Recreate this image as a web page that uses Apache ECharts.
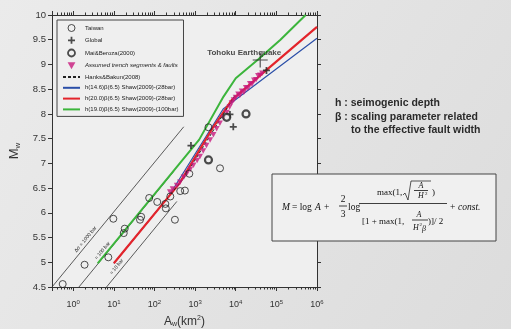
<!DOCTYPE html>
<html>
<head>
<meta charset="utf-8">
<title>Mw vs rupture area</title>
<script src="https://cdn.jsdelivr.net/npm/echarts@6/dist/echarts.min.js"></script>
<style>
  html, body { margin: 0; padding: 0; }
  #chart { width: 511px; height: 329px; }
</style>
</head>
<body>
<div id="chart"></div>
<script>
// Taiwan events (open circles)
var taiwanArea = [0.55, 1.9, 7.3, 9.7, 17.5, 18.5, 44, 47, 74, 117, 185, 190, 245, 318, 430, 560, 720, 2130, 4100];
var taiwanMw   = [4.56, 4.95, 5.10, 5.88, 5.59, 5.68, 5.86, 5.92, 6.30, 6.22, 6.18, 6.09, 6.33, 5.86, 6.44, 6.45, 6.79, 7.73, 6.90];
// Global events, last one is Tohoku
var globalArea = [790, 7200, 8700, 57000, 40000];
var globalMw   = [7.36, 7.99, 7.74, 8.88, 9.09];
// Mai & Beroza (2000)
var maiArea = [2130, 6000, 17900];
var maiMw   = [7.07, 7.93, 8.00];
// assumed trench segments & faults
var trenchArea = [240, 280, 355, 425, 525, 630, 760, 910, 1120, 1320, 1580, 1900, 2340, 2820, 3390,
                  4070, 5010, 6030, 7080, 7940, 8910, 10000, 11500, 12600, 14100, 15800, 17800, 20000,
                  22400, 25100, 28200, 31600, 35500, 39800, 44700];
var trenchMw   = [6.42, 6.48, 6.55, 6.62, 6.72, 6.80, 6.88, 6.96, 7.06, 7.14, 7.25, 7.36, 7.47, 7.58, 7.70,
                  7.81, 7.92, 8.03, 8.14, 8.22, 8.28, 8.33, 8.40, 8.37, 8.46, 8.44, 8.53, 8.52,
                  8.61, 8.60, 8.68, 8.69, 8.77, 8.78, 8.82];
// Hanks & Bakun
var hanksArea = [250, 537, 10000];
var hanksMw   = [6.38, 6.71, 8.40];
// Shaw (2009) curves
var blueArea  = [10, 214, 4900, 1000000];
var blueMw    = [4.98, 6.31, 8.10, 9.53];
var redArea   = [10, 400, 2820, 7940, 57500, 1000000];
var redMw     = [4.98, 6.58, 7.74, 8.28, 8.89, 9.76];
var greenArea = [4, 1260, 5000, 10000, 35500, 126000, 525000];
var greenMw   = [4.98, 7.48, 8.35, 8.72, 9.10, 9.50, 10.0];
// constant stress drop lines
var bar1000Area = [0.3, 525],  bar1000Mw = [4.5, 7.74];
var bar100Area  = [1.38, 300], bar100Mw  = [4.5, 6.84];
var bar10Area   = [6.6, 355],  bar10Mw   = [4.5, 6.23];

var legendNames = ['Taiwan', 'Global', 'Mai&Beroza(2000)', 'Assumed trench segments & faults',
  'Hanks&Bakun(2008)', 'h(14.6)β(6.5) Shaw(2009)-(28bar)', 'h(20.0)β(6.5) Shaw(2009)-(28bar)',
  'h(19.0)β(6.5) Shaw(2009)-(100bar)'];

function pairs(xs, ys) {
  return xs.map(function (x, i) { return [x, ys[i]]; });
}

var ink = '#222';
var plusBold = 'path://M3,0H5V3H8V5H5V8H3V5H0V3H3Z';
var plusThin = 'path://M7.4,0H8.6V7.4H16V8.6H8.6V16H7.4V8.6H0V7.4H7.4Z';
var triDown = 'path://M0,0L10,0L5,9Z';

var globalData = pairs(globalArea, globalMw);
globalData[4] = {
  value: globalData[4], symbol: plusThin, symbolSize: 15,
  label: { show: true, formatter: 'Tohoku Earthquake', position: 'top', distance: 0, offset: [-16, 4],
           fontSize: 8, fontWeight: 'bold', color: ink, fontFamily: 'Liberation Sans' }
};

function refLine(xs, ys) {
  return { type: 'line', data: pairs(xs, ys), symbol: 'none', silent: true,
           lineStyle: { color: '#333', width: 0.8 }, z: 1 };
}

var chart = echarts.init(document.getElementById('chart'), null, { renderer: 'canvas' });

var logLabel = function (v) {
  var e = Math.round(Math.log10(v));
  if (Math.abs(v - Math.pow(10, e)) > 1e-6 * v) return '';
  return '10{s|' + e + '}';
};

var legendData = legendNames.map(function (n, i) {
  if (i === 0) return { name: n, itemStyle: { borderWidth: 1 } };
  if (i === 2) return { name: n, itemStyle: { borderWidth: 1.8 } };
  if (i === 3) return { name: n, icon: triDown, textStyle: { fontStyle: 'italic' } };
  if (i >= 4) return { name: n, itemStyle: { opacity: 0 } };
  return { name: n };
});

chart.setOption({
  backgroundColor: {
    type: 'linear', x: 0, y: 0, x2: 1, y2: 1,
    colorStops: [{ offset: 0, color: '#ebebeb' }, { offset: 1, color: '#dcdcdc' }]
  },
  animation: false,
  textStyle: { fontFamily: 'Liberation Sans' },
  grid: { left: 52, right: 194, top: 15, bottom: 42, outerBoundsMode: 'none', containLabel: false,
          show: true, backgroundColor: '#efefef', borderWidth: 0 },
  legend: {
    orient: 'vertical', left: 57, top: 20, padding: [4, 5, 4, 5],
    itemWidth: 17, itemHeight: 7, itemGap: 4.8,
    borderColor: '#444', borderWidth: 1, backgroundColor: '#efefef',
    textStyle: { fontSize: 6, color: ink },
    data: legendData
  },
  xAxis: [{
    type: 'log', min: 0.3, max: 1000000, splitNumber: 7,
    axisLine: { lineStyle: { color: '#333' } },
    axisTick: { length: 4, lineStyle: { color: '#333' } },
    minorTick: { show: true, splitNumber: 9, length: 2.5, lineStyle: { color: '#333' } },
    splitLine: { show: false },
    axisLabel: {
      margin: 12, color: '#333', fontSize: 9, formatter: logLabel,
      rich: { s: { fontSize: 6, verticalAlign: 'top', padding: [0, 0, 5, 0] } }
    },
    name: 'A{w|w}(km{s|2})', nameLocation: 'middle', nameGap: 28,
    nameTextStyle: { fontSize: 12, color: '#333',
      rich: { w: { fontSize: 7, padding: [6, 0, 0, 0] }, s: { fontSize: 7, padding: [0, 0, 6, 0] } } }
  }, {
    type: 'log', min: 0.3, max: 1000000, splitNumber: 7, position: 'top',
    axisLine: { lineStyle: { color: '#333' } },
    axisTick: { length: 4, lineStyle: { color: '#333' } },
    minorTick: { show: true, splitNumber: 9, length: 2.5, lineStyle: { color: '#333' } },
    splitLine: { show: false }, axisLabel: { show: false }
  }],
  yAxis: [{
    type: 'value', min: 4.5, max: 10, interval: 0.5,
    axisLine: { show: true, lineStyle: { color: '#333' } },
    axisTick: { show: true, length: 4, lineStyle: { color: '#333' } },
    splitLine: { show: false },
    axisLabel: { color: '#333', fontSize: 9.5, margin: 6 },
    name: 'M{w|w}', nameLocation: 'middle', nameGap: 20, nameRotate: 90,
    nameTextStyle: { fontSize: 13, color: '#333',
      rich: { w: { fontSize: 8, padding: [7, 0, 0, 0] } } }
  }, {
    type: 'value', min: 4.5, max: 10, interval: 0.5, position: 'right',
    axisLine: { show: true, lineStyle: { color: '#333' } },
    axisTick: { show: true, length: 4, lineStyle: { color: '#333' } },
    splitLine: { show: false }, axisLabel: { show: false }
  }],
  series: [
    refLine(bar1000Area, bar1000Mw),
    refLine(bar100Area, bar100Mw),
    refLine(bar10Area, bar10Mw),
    { name: legendNames[5], type: 'line', data: pairs(blueArea, blueMw), symbol: 'none',
      lineStyle: { color: '#2b4fa8', width: 1.2 }, itemStyle: { color: '#2b4fa8' }, z: 2 },
    { name: legendNames[6], type: 'line', data: pairs(redArea, redMw), symbol: 'none',
      lineStyle: { color: '#e3242b', width: 2.2 }, itemStyle: { color: '#e3242b' }, z: 3 },
    { name: legendNames[7], type: 'line', data: pairs(greenArea, greenMw), symbol: 'none',
      lineStyle: { color: '#3cb53c', width: 2 }, itemStyle: { color: '#3cb53c' }, z: 3 },
    { name: legendNames[4], type: 'line', data: pairs(hanksArea, hanksMw), symbol: 'none',
      lineStyle: { color: ink, width: 1, type: [3, 2] }, itemStyle: { color: ink }, z: 4 },
    { name: legendNames[3], type: 'scatter', data: pairs(trenchArea, trenchMw),
      symbol: triDown, symbolSize: [6, 5.5],
      itemStyle: { color: '#c8197d' }, z: 5 },
    { name: legendNames[0], type: 'scatter', data: pairs(taiwanArea, taiwanMw),
      symbol: 'circle', symbolSize: 7,
      itemStyle: { color: 'rgba(0,0,0,0)', borderColor: ink, borderWidth: 1 }, z: 6 },
    { name: legendNames[1], type: 'scatter', data: globalData,
      symbol: plusBold, symbolSize: 7, itemStyle: { color: ink }, z: 6 },
    { name: legendNames[2], type: 'scatter', data: pairs(maiArea, maiMw),
      symbol: 'circle', symbolSize: 7,
      itemStyle: { color: '#efefef', borderColor: ink, borderWidth: 2.2 }, z: 6 }
  ]
});

// annotations: stress drop labels along the reference lines, the notes and the formula
var px = function (a, m) { return chart.convertToPixel({ xAxisIndex: 0, yAxisIndex: 0 }, [a, m]); };
var p0 = px(1, 5), p1 = px(10, 6);
var ang = Math.atan2(p0[1] - p1[1], p1[0] - p0[0]);
var nx = -Math.sin(ang) * 5, ny = -Math.cos(ang) * 5;
function barLabel(a, m, txt) {
  var p = px(a, m);
  return { type: 'text', x: p[0] + nx, y: p[1] + ny, rotation: ang, z: 10,
           style: { text: txt, fontSize: 5, fill: ink, align: 'center', verticalAlign: 'middle',
                    fontFamily: 'Liberation Sans' } };
}
function txt(x, y, s, o) {
  var st = { text: s, fontSize: 9.5, fill: '#111', fontFamily: 'Liberation Serif',
             align: 'left', verticalAlign: 'middle' };
  for (var k in o) st[k] = o[k];
  return { type: 'text', x: x, y: y, style: st, z: 10 };
}
function bar(x1, x2, y) {
  return { type: 'line', shape: { x1: x1, y1: y, x2: x2, y2: y }, style: { stroke: '#111', lineWidth: 0.8 }, z: 10 };
}
var note = { fontFamily: 'Liberation Sans', fontWeight: 'bold', fontSize: 10.5, fill: '#2a2a2a' };
var it = { fontStyle: 'italic' };

chart.setOption({
  graphic: [
    barLabel(2.5, 4.98 + 0.42, 'Δσ = 1000 bar'),
    barLabel(6.5, 4.36 + 0.81, '= 100 bar'),
    barLabel(14.6, 3.68 + 1.165, '= 10 bar'),
    txt(335, 103, 'h : seimogenic depth', note),
    txt(335, 117, 'β : scaling parameter related', note),
    txt(351, 130, 'to the effective fault width', note),
    { type: 'rect', shape: { x: 272, y: 174, width: 224, height: 67 }, z: 9,
      style: { fill: '#f0f0f0', stroke: '#444', lineWidth: 1 } },
    txt(282, 207, 'M', it),
    txt(292, 207, '= log', {}),
    txt(315, 207, 'A', it),
    txt(324, 207, '+', {}),
    txt(343, 199, '2', { align: 'center' }),
    bar(339, 347, 206),
    txt(343, 214, '3', { align: 'center' }),
    txt(348, 207, 'log', {}),
    bar(359, 447, 203.5),
    txt(377, 193, 'max(1,', { fontSize: 9 }),
    { type: 'polyline', shape: { points: [[403, 195], [405, 193], [408, 200], [411, 181], [431, 181]] },
      style: { stroke: '#111', lineWidth: 0.7, fill: null }, z: 10 },
    txt(421, 186, 'A', { fontStyle: 'italic', fontSize: 8, align: 'center' }),
    bar(414, 428, 190.5),
    txt(421, 196, 'H', { fontStyle: 'italic', fontSize: 8, align: 'center' }),
    txt(425, 193.5, '2', { fontSize: 5 }),
    txt(432, 193, ')', { fontSize: 9 }),
    txt(362, 222, '[1 + max(1,', { fontSize: 9 }),
    txt(419, 215, 'A', { fontStyle: 'italic', fontSize: 8, align: 'center' }),
    bar(412, 428, 220),
    txt(413, 227.5, 'H', { fontStyle: 'italic', fontSize: 8 }),
    txt(419.5, 225, '2', { fontSize: 5 }),
    txt(422, 228.5, 'β', { fontStyle: 'italic', fontSize: 8 }),
    txt(428, 222, ')]/ 2', { fontSize: 9 }),
    txt(450, 207, '+', {}),
    txt(458, 207, 'const.', it)
  ]
});
</script>
</body>
</html>
